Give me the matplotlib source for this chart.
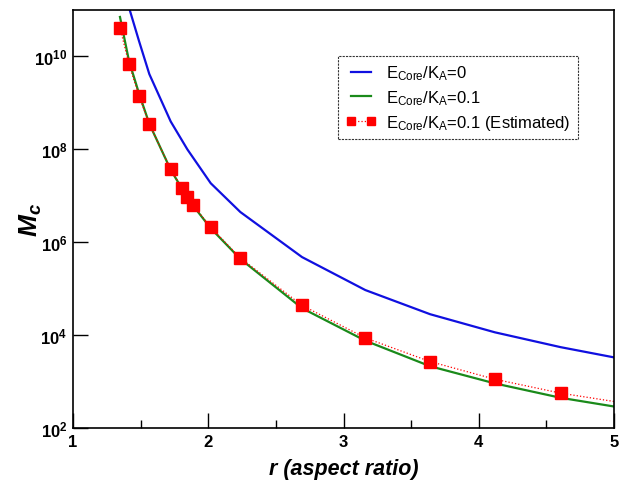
import matplotlib
matplotlib.use("Agg")
import matplotlib.pyplot as plt
import numpy as np
from matplotlib.ticker import FixedLocator, MultipleLocator, NullLocator

plt.rcParams["font.family"] = ["Liberation Sans", "DejaVu Sans"]
plt.rcParams["mathtext.default"] = "regular"

# r (aspect ratio) and log10(Mc)
r_est = [1.347, 1.414, 1.488, 1.564, 1.722, 1.806, 1.845, 1.887, 2.018,
         2.237, 2.693, 3.161, 3.640, 4.119, 4.606, 5.09]
logm_est = [10.62, 9.83, 9.15, 8.54, 7.57, 7.16, 6.97, 6.80, 6.32,
            5.66, 4.64, 3.94, 3.43, 3.05, 2.75, 2.53]

r_green = [1.347, 1.414, 1.488, 1.564, 1.722, 1.806, 1.845, 1.887, 2.018,
           2.237, 2.693, 3.161, 3.640, 4.119, 4.606, 5.09]
logm_green = [10.85, 9.90, 9.20, 8.55, 7.56, 7.15, 6.96, 6.79, 6.30,
              5.64, 4.58, 3.88, 3.33, 2.96, 2.65, 2.42]

r_blue = [1.347, 1.414, 1.488, 1.564, 1.722, 1.845, 2.018, 2.237, 2.693,
          3.161, 3.640, 4.119, 4.606, 5.09]
logm_blue = [12.2, 11.05, 10.33, 9.62, 8.60, 8.00, 7.27, 6.65, 5.68,
             4.97, 4.45, 4.06, 3.74, 3.47]

x_ticks = [1, 2, 3, 4, 5]
y_ticks = [1e2, 1e4, 1e6, 1e8, 1e10]
y_tick_labels = ["10$^{2}$", "10$^{4}$", "10$^{6}$", "10$^{8}$", "10$^{10}$"]

fig = plt.figure(figsize=(6.19, 4.89), dpi=100)
ax = fig.add_axes([0.118, 0.1227, 0.874, 0.8548])

ax.plot(r_blue, 10 ** np.array(logm_blue), color="#1010e0", lw=1.6,
        label=r"E$_{Core}$/K$_{A}$=0")
ax.plot(r_green, 10 ** np.array(logm_green), color="#1a8a1a", lw=1.6,
        label=r"E$_{Core}$/K$_{A}$=0.1")
ax.plot(r_est, 10 ** np.array(logm_est), color="red", lw=0.9, ls=":",
        marker="s", ms=8.5, mec="red", mfc="red",
        label=r"E$_{Core}$/K$_{A}$=0.1 (Estimated)")

ax.set_yscale("log")
ax.set_xlim(1, 5)
ax.set_ylim(1e2, 1e11)

ax.xaxis.set_major_locator(FixedLocator(x_ticks))
ax.xaxis.set_minor_locator(MultipleLocator(0.5))
ax.yaxis.set_major_locator(FixedLocator(y_ticks))
ax.yaxis.set_minor_locator(NullLocator())
ax.set_yticklabels(y_tick_labels)
ax.set_xticklabels([str(v) for v in x_ticks])

ax.tick_params(which="major", direction="in", length=11, width=1.0,
               labelsize=12, top=False, right=False, pad=4)
ax.tick_params(which="minor", direction="in", length=6, width=1.0,
               top=False, right=False)
for lbl in ax.get_xticklabels() + ax.get_yticklabels():
    lbl.set_fontweight("bold")
for sp in ax.spines.values():
    sp.set_linewidth(1.2)

ax.set_xlabel("r (aspect ratio)", fontsize=15.5, fontweight="bold",
              fontstyle="italic", labelpad=7)
ax.set_ylabel("M$_{c}$", fontsize=19, fontweight="bold", fontstyle="italic",
              labelpad=-7)

leg = ax.legend(loc="upper right", bbox_to_anchor=(0.933, 0.89), fontsize=12,
                frameon=True, fancybox=False, handlelength=1.8, numpoints=2,
                markerscale=0.75, handletextpad=0.6, borderaxespad=0,
                borderpad=0.45, labelspacing=0.35)
frame = leg.get_frame()
frame.set_edgecolor("black")
frame.set_linestyle((0, (2, 1)))
frame.set_linewidth(0.8)

fig.savefig("out.png", dpi=100)
